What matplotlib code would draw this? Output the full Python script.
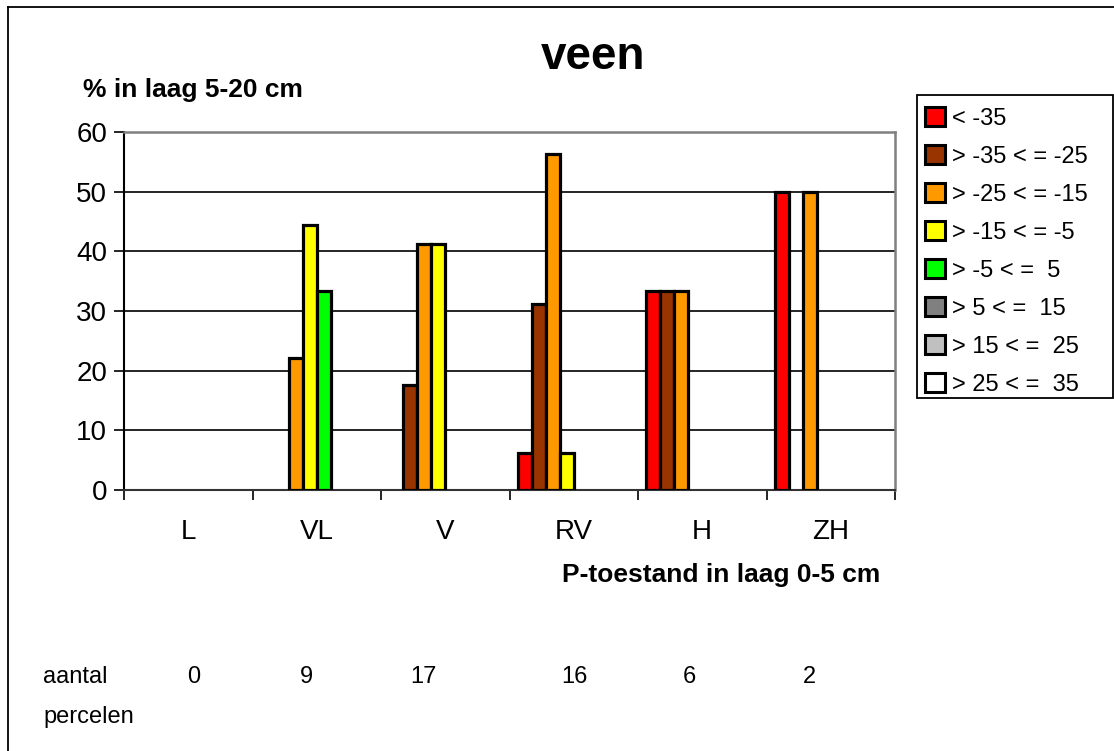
import matplotlib
matplotlib.use("Agg")
import matplotlib.pyplot as plt
import matplotlib.transforms as mtransforms
import numpy as np
from matplotlib.lines import Line2D
from matplotlib.patches import Rectangle

plt.rcParams['font.family'] = ['Liberation Sans', 'DejaVu Sans']

# P-status classes (layer 0-5 cm)
categories = ['L', 'VL', 'V', 'RV', 'H', 'ZH']

# Share of plots (%) per difference class in layer 5-20 cm
class_labels = ['< -35', '> -35 < = -25', '> -25 < = -15', '> -15 < = -5',
                '> -5 < =  5', '> 5 < =  15', '> 15 < =  25', '> 25 < =  35']
class_colors = ['#FF0000', '#993300', '#FF9900', '#FFFF00',
                '#00FF00', '#808080', '#C0C0C0', '#FFFFFF']

lt_m35 = [0, 0, 0, 6.25, 33.3, 50.0]
m35_m25 = [0, 0, 17.6, 31.25, 33.3, 0]
m25_m15 = [0, 22.2, 41.2, 56.25, 33.3, 50.0]
m15_m5 = [0, 44.4, 41.2, 6.25, 0, 0]
m5_p5 = [0, 33.3, 0, 0, 0, 0]
p5_p15 = [0, 0, 0, 0, 0, 0]
p15_p25 = [0, 0, 0, 0, 0, 0]
p25_p35 = [0, 0, 0, 0, 0, 0]
series = [lt_m35, m35_m25, m25_m15, m15_m5, m5_p5, p5_p15, p15_p25, p25_p35]

# number of plots per P-status class
aantal_percelen = [0, 9, 17, 16, 6, 2]

W, H = 1114, 751
fig = plt.figure(figsize=(W / 100, H / 100), dpi=100)
fig.patch.set_facecolor('white')

def fx(px):
    return px / W

def fy(py):
    return 1 - py / H

ax_l, ax_r, ax_t, ax_b = 124, 895, 132, 490
ax = fig.add_axes([fx(ax_l), fy(ax_b), fx(ax_r - ax_l), (ax_b - ax_t) / H])

n = len(series)
bw = 0.109
x = np.arange(len(categories)) + 0.5
handles = []
for i, (vals, col) in enumerate(zip(series, class_colors)):
    offs = (i - (n - 1) / 2) * bw
    heights = np.array(vals, dtype=float)
    mask = heights > 0
    ax.bar(x[mask] + offs, heights[mask], width=bw, color=col,
           edgecolor='black', linewidth=2.3, zorder=3)
    handles.append(Rectangle((0, 0), 1, 1, facecolor=col, edgecolor='black',
                             linewidth=2.2))

ax.set_xlim(0, len(categories))
ax.set_ylim(0, 60)
ax.set_yticks(np.arange(0, 61, 10))
ax.set_xticks(np.arange(0, len(categories) + 1))
ax.set_xticklabels([])
ax.yaxis.grid(True, color='black', linewidth=1.2, zorder=1)
ax.set_axisbelow(True)
ax.tick_params(axis='y', direction='out', length=7, width=1.2, labelsize=20,
               pad=5, color='black')
ax.tick_params(axis='x', direction='out', length=7, width=1.2, color='black')
for s in ['top', 'right']:
    ax.spines[s].set_color('#808080')
    ax.spines[s].set_linewidth(1.8)
ax.spines['left'].set_color('black')
ax.spines['left'].set_linewidth(1.5)
ax.spines['bottom'].set_color('#333333')
ax.spines['bottom'].set_linewidth(1.5)

# category labels below the axis
cat_trans = mtransforms.blended_transform_factory(ax.transData, fig.transFigure)
for xi, lab in zip(x, categories):
    ax.text(xi, fy(532), lab, transform=cat_trans, ha='center', va='center',
            fontsize=20)

# titles
fig.text(fx(593), fy(57), 'veen', ha='center', va='center', fontsize=33,
         fontweight='bold')
fig.text(fx(83), fy(90), '% in laag 5-20 cm', ha='left', va='center',
         fontsize=19, fontweight='bold')
fig.text(fx(721), fy(575), 'P-toestand in laag 0-5 cm', ha='center',
         va='center', fontsize=19, fontweight='bold')

# plot counts row
fig.text(fx(43), fy(677), 'aantal', ha='left', va='center', fontsize=17)
fig.text(fx(43), fy(717), 'percelen', ha='left', va='center', fontsize=17)
count_px = [194, 306, 423, 574, 689, 809]
for cx, c in zip(count_px, aantal_percelen):
    fig.text(fx(cx), fy(677), str(c), ha='center', va='center', fontsize=17)

# legend
leg = fig.legend(handles, class_labels, loc='upper left',
                 bbox_to_anchor=(fx(918), fy(100)), frameon=False,
                 fontsize=17, handlelength=0.85, handleheight=0.85,
                 handletextpad=0.3, labelspacing=0.655, borderpad=0.3,
                 borderaxespad=0)
fig.add_artist(Rectangle((fx(917), fy(398)), fx(1113 - 917), (398 - 95) / H,
                         transform=fig.transFigure, fill=False,
                         edgecolor='black', linewidth=1.3))

# outer chart border (left and top edges)
fig.add_artist(Line2D([fx(8), fx(8)], [fy(7), 0], transform=fig.transFigure,
                      color='black', linewidth=1.3))
fig.add_artist(Line2D([fx(8), 1], [fy(7), fy(7)], transform=fig.transFigure,
                      color='black', linewidth=1.3))

fig.savefig('out.png', dpi=100, facecolor='white')
